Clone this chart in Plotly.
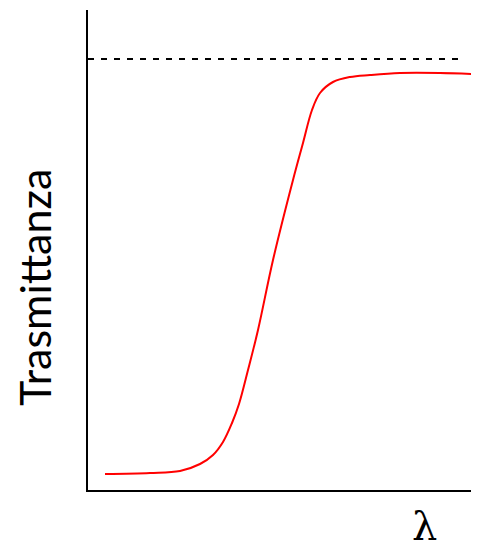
import plotly.graph_objects as go

# curva di trasmittanza (unità arbitrarie)
lam = [17, 62, 92, 112, 125, 135, 144, 151, 160, 170, 185, 205, 215,
       224, 232, 245, 262, 282, 312, 352, 384]
trasm = [16, 17, 19, 26, 35, 48, 67, 86, 120, 160, 230, 310, 347,
         380, 397, 408, 413, 415, 417, 417, 416]

# livello di riferimento (linea tratteggiata)
rif_x = [0, 370]
rif_y = [431, 431]

fig = go.Figure()
fig.add_trace(go.Scatter(x=rif_x, y=rif_y, mode="lines",
                         line=dict(color="black", width=1.8, dash="6px,7px"),
                         hoverinfo="skip"))
fig.add_trace(go.Scatter(x=lam, y=trasm, mode="lines",
                         line=dict(color="#FF0000", width=2, shape="spline", smoothing=1)))

fig.update_xaxes(range=[0, 390], showline=True, linecolor="black", linewidth=2,
                 showgrid=False, zeroline=False, showticklabels=False, ticks="")
fig.update_yaxes(range=[0, 480], showline=True, linecolor="black", linewidth=2,
                 showgrid=False, zeroline=False, showticklabels=False, ticks="")

fig.add_annotation(text="Trasmittanza", xref="paper", yref="paper",
                   x=-0.136, y=0.423, textangle=-90, showarrow=False,
                   xanchor="center", yanchor="middle",
                   font=dict(family="Lato", size=43, color="black"))
fig.add_annotation(text="λ", xref="paper", yref="paper",
                   x=0.864, y=-0.125, showarrow=False,
                   xanchor="center", yanchor="bottom", borderpad=0,
                   font=dict(family="DejaVu Serif", size=40, color="black"))

# la pagina html ha un margine di 8px: si compensa qui
fig.update_layout(width=471, height=543, showlegend=False,
                  plot_bgcolor="white", paper_bgcolor="white",
                  margin=dict(l=80, r=1, t=2, b=61))
fig.write_html("out.html")
